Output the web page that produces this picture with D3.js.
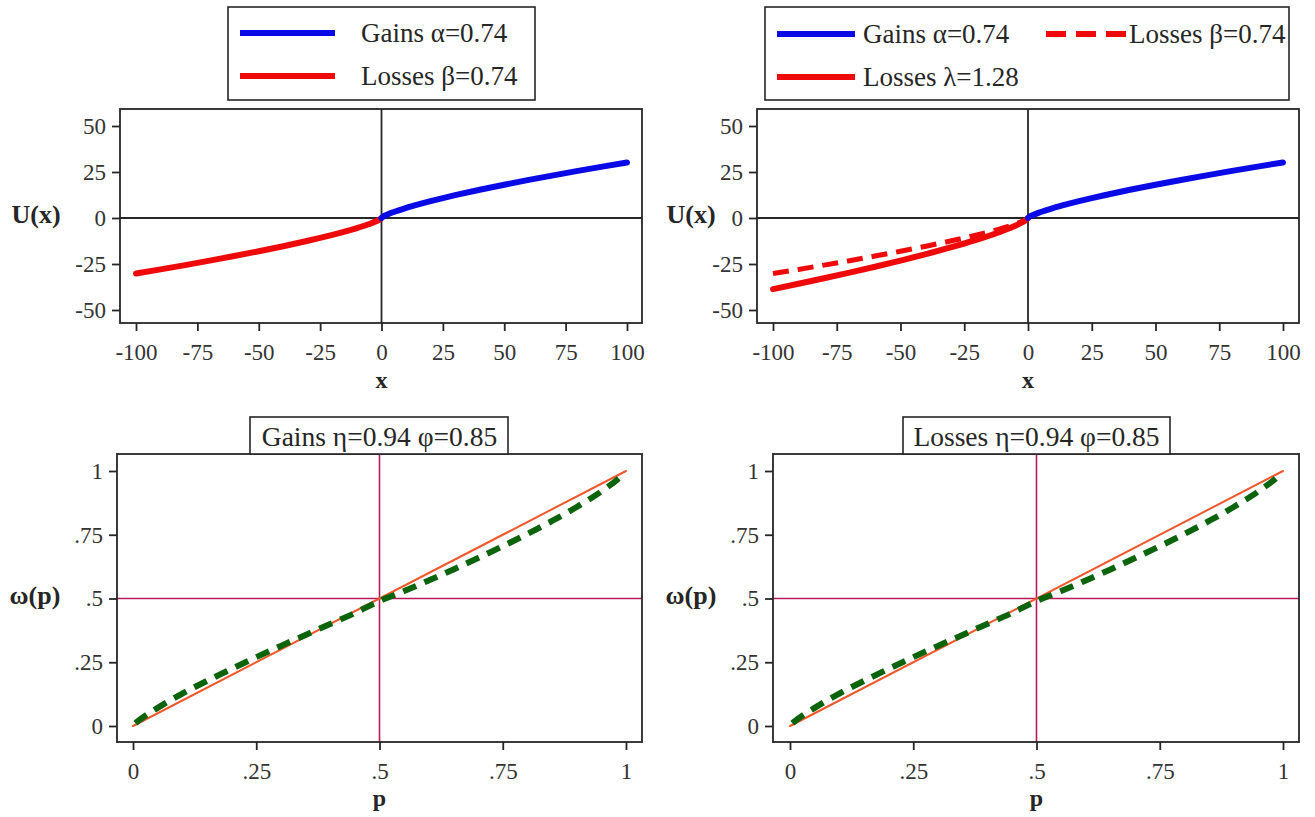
<!DOCTYPE html>
<html>
<head>
<meta charset="utf-8">
<script src="https://cdn.jsdelivr.net/npm/d3@7"></script>
<style>
  body { margin: 0; background: #fff; }
</style>
</head>
<body>
<svg id="chart" width="1315" height="817"></svg>
<script>
// ---------- data ----------
const xTicks = [-100, -75, -50, -25, 0, 25, 50, 75, 100];
const uTicks = [-50, -25, 0, 25, 50];
const pTicks = [0, 0.25, 0.5, 0.75, 1];
const pTickLabels = ["0", ".25", ".5", ".75", "1"];

// value function, gains side
const gainX = [0, 1, 2, 5, 10, 15, 20, 25, 30, 40, 50, 60, 70, 80, 90, 100];
const gainU = [0, 1, 1.67, 3.29, 5.5, 7.42, 9.18, 10.83, 12.39, 15.33, 18.08, 20.69, 23.19, 25.6, 27.94, 30.2];

// value function, losses side
const lossX = [-100, -90, -80, -70, -60, -50, -40, -30, -25, -20, -15, -10, -5, -2, -1, 0];
const lossBetaU = [-30.2, -27.94, -25.6, -23.19, -20.69, -18.08, -15.33, -12.39, -10.83, -9.18, -7.42, -5.5, -3.29, -1.67, -1, 0];
const lossLambdaU = [-38.66, -35.76, -32.77, -29.68, -26.48, -23.14, -19.62, -15.86, -13.86, -11.75, -9.5, -7.04, -4.21, -2.14, -1.28, 0];

// probability weighting
const probP = [0.005, 0.01, 0.05, 0.1, 0.15, 0.2, 0.25, 0.3, 0.35, 0.4, 0.45, 0.5, 0.55, 0.6, 0.65, 0.7, 0.75, 0.8, 0.85, 0.9, 0.95, 0.99, 0.995];
const weightGains = [0.011, 0.019, 0.071, 0.127, 0.177, 0.224, 0.27, 0.314, 0.357, 0.4, 0.443, 0.49, 0.529, 0.571, 0.614, 0.659, 0.705, 0.753, 0.804, 0.859, 0.92, 0.979, 0.988];
const weightLosses = [0.011, 0.019, 0.071, 0.127, 0.177, 0.224, 0.27, 0.314, 0.357, 0.4, 0.443, 0.49, 0.529, 0.571, 0.614, 0.659, 0.705, 0.753, 0.804, 0.859, 0.92, 0.979, 0.988];
const diagP = [0, 1];
const diagW = [0, 1];

const BLUE = "#0a0ae6", RED = "#ee0a0a", GREEN = "#0b640b", ORANGE = "#f0572a", CRANBERRY = "#b8195a";
const INK = "#262626";
const SERIF = '"Liberation Serif", "DejaVu Serif", serif';

const svg = d3.select("#chart");

function txt(sel) {
  return sel.attr("font-family", SERIF).style("font-family", SERIF).attr("fill", INK);
}

// ---------- panel helper ----------
function makePanel(cfg) {
  const [fx0, fy0, fx1, fy1] = cfg.frame;
  const x = d3.scaleLinear().domain(cfg.xDomain).range(cfg.xRange);
  const y = d3.scaleLinear().domain(cfg.yDomain).range(cfg.yRange);
  const g = svg.append("g");

  // axes
  const xa = g.append("g")
    .attr("transform", `translate(0,${fy1})`)
    .call(d3.axisBottom(x).tickValues(cfg.xTicks).tickFormat((d, i) => cfg.xLabels ? cfg.xLabels[i] : d)
      .tickSize(8).tickPadding(13));
  const ya = g.append("g")
    .attr("transform", `translate(${fx0},0)`)
    .call(d3.axisLeft(y).tickValues(cfg.yTicks).tickFormat((d, i) => cfg.yLabels ? cfg.yLabels[i] : d)
      .tickSize(8).tickPadding(6));
  [xa, ya].forEach(a => {
    a.select(".domain").remove();
    a.attr("font-size", 23).attr("color", INK);
    a.selectAll(".tick line").attr("stroke-width", 1.8);
    txt(a.selectAll(".tick text")).attr("fill", "#333");
  });

  // reference lines
  g.append("line").attr("x1", fx0).attr("x2", fx1).attr("y1", y(cfg.ref[1])).attr("y2", y(cfg.ref[1]))
    .attr("stroke", cfg.refColor).attr("stroke-width", cfg.refWidth);
  g.append("line").attr("x1", x(cfg.ref[0])).attr("x2", x(cfg.ref[0])).attr("y1", fy0).attr("y2", fy1)
    .attr("stroke", cfg.refColor).attr("stroke-width", cfg.refWidth);

  // series
  const line = d3.line().x(d => x(d[0])).y(d => y(d[1])).curve(d3.curveMonotoneX);
  cfg.series.forEach(s => {
    g.append("path")
      .datum(d3.zip(s.xs, s.ys))
      .attr("d", line)
      .attr("fill", "none")
      .attr("stroke", s.color)
      .attr("stroke-width", s.width)
      .attr("stroke-dasharray", s.dash || null)
      .attr("stroke-linecap", s.cap || "round");
  });

  // frame
  g.append("rect").attr("x", fx0).attr("y", fy0).attr("width", fx1 - fx0).attr("height", fy1 - fy0)
    .attr("fill", "none").attr("stroke", INK).attr("stroke-width", 1.8);

  // axis titles
  txt(g.append("text")).attr("x", cfg.yTitlePos[0]).attr("y", cfg.yTitlePos[1])
    .attr("text-anchor", "middle").attr("dominant-baseline", "middle")
    .attr("font-size", 26).attr("font-weight", "bold").text(cfg.yTitle);
  txt(g.append("text")).attr("x", x(cfg.ref[0])).attr("y", cfg.xTitleY)
    .attr("text-anchor", "middle").attr("font-size", 24).attr("font-weight", "bold").text(cfg.xTitle);
}

// ---------- legend helpers ----------
function box(x0, y0, x1, y1) {
  svg.append("rect").attr("x", x0).attr("y", y0).attr("width", x1 - x0).attr("height", y1 - y0)
    .attr("fill", "#fff").attr("stroke", INK).attr("stroke-width", 1.6);
}
function legendItem(x0, x1, y, tx, color, label, dash) {
  svg.append("line").attr("x1", x0).attr("x2", x1).attr("y1", y).attr("y2", y)
    .attr("stroke", color).attr("stroke-width", 6).attr("stroke-dasharray", dash || null);
  txt(svg.append("text")).attr("x", tx).attr("y", y).attr("dominant-baseline", "central")
    .attr("font-size", 27).text(label);
}
function titleBox(cx, x0, x1, y0, y1, label) {
  box(x0, y0, x1, y1);
  txt(svg.append("text")).attr("x", cx).attr("y", (y0 + y1) / 2 + 1).attr("text-anchor", "middle")
    .attr("dominant-baseline", "central").attr("font-size", 27.5).text(label);
}

// ---------- top-left: value function ----------
makePanel({
  frame: [120, 109, 642, 323],
  xDomain: [-100, 100], xRange: [136, 627],
  yDomain: [-50, 50], yRange: [310, 126],
  xTicks: xTicks, yTicks: uTicks,
  ref: [0, 0], refColor: INK, refWidth: 1.8,
  series: [
    { xs: lossX, ys: lossBetaU, color: RED, width: 6 },
    { xs: gainX, ys: gainU, color: BLUE, width: 6 }
  ],
  yTitle: "U(x)", yTitlePos: [36, 217],
  xTitle: "x", xTitleY: 388
});
box(228, 7, 535, 100);
legendItem(240, 335, 33, 361, BLUE, "Gains α=0.74");
legendItem(240, 335, 76, 361, RED, "Losses β=0.74");

// ---------- top-right: value function with loss aversion ----------
makePanel({
  frame: [757, 109, 1299, 323],
  xDomain: [-100, 100], xRange: [773, 1283],
  yDomain: [-50, 50], yRange: [310, 126],
  xTicks: xTicks, yTicks: uTicks,
  ref: [0, 0], refColor: INK, refWidth: 1.8,
  series: [
    { xs: lossX, ys: lossLambdaU, color: RED, width: 6 },
    { xs: lossX, ys: lossBetaU, color: RED, width: 5, dash: "16,9", cap: "butt" },
    { xs: gainX, ys: gainU, color: BLUE, width: 6 }
  ],
  yTitle: "U(x)", yTitlePos: [691, 217],
  xTitle: "x", xTitleY: 388
});
box(765, 7, 1289, 100);
legendItem(777, 855, 34, 863, BLUE, "Gains α=0.74");
legendItem(1046, 1126, 34, 1129, RED, "Losses β=0.74", "20,10");
legendItem(777, 855, 77, 863, RED, "Losses λ=1.28");

// ---------- bottom: probability weighting ----------
const weightPanels = [
  { frame: [117, 454, 642, 742], xRange: [133, 626], yTitlePos: [35, 598], w: weightGains,
    title: "Gains η=0.94 φ=0.85", tb: [250, 508] },
  { frame: [773, 454, 1299, 742], xRange: [790, 1283], yTitlePos: [691, 598], w: weightLosses,
    title: "Losses η=0.94 φ=0.85", tb: [903, 1170] }
];
weightPanels.forEach(wp => {
  makePanel({
    frame: wp.frame,
    xDomain: [0, 1], xRange: wp.xRange,
    yDomain: [0, 1], yRange: [726, 471],
    xTicks: pTicks, yTicks: pTicks, xLabels: pTickLabels, yLabels: pTickLabels,
    ref: [0.5, 0.5], refColor: CRANBERRY, refWidth: 1.6,
    series: [
      { xs: diagP, ys: diagW, color: ORANGE, width: 2 },
      { xs: probP, ys: wp.w, color: GREEN, width: 6, dash: "14,9", cap: "butt" }
    ],
    yTitle: "ω(p)", yTitlePos: wp.yTitlePos,
    xTitle: "p", xTitleY: 806
  });
  const cx = (wp.xRange[0] + wp.xRange[1]) / 2;
  titleBox(cx, wp.tb[0], wp.tb[1], 417, 454, wp.title);
});
</script>
</body>
</html>
